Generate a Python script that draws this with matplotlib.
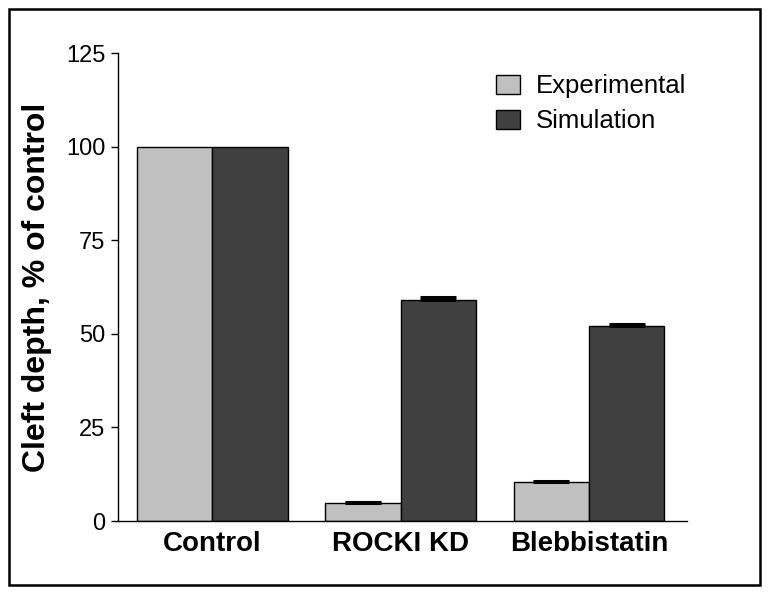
import numpy as np
import matplotlib.pyplot as plt
from matplotlib.patches import Rectangle

plt.rcParams['font.family'] = ['Liberation Sans', 'DejaVu Sans']

# data
groups = ['Control', 'ROCKI KD', 'Blebbistatin']
experimental = [100.0, 4.8, 10.5]
experimental_err = [0.0, 0.3, 0.3]
simulation = [100.0, 59.1, 52.0]
simulation_err = [0.0, 0.8, 0.6]

fig = plt.figure(figsize=(7.69, 5.96), dpi=100)
ax = fig.add_axes([118/769, 1 - 521/596, (687-118)/769, (521-53)/596])

x = np.arange(len(groups))
w = 0.4
ax.bar(x - w/2, experimental, w, color='#c0c0c0', edgecolor='black', linewidth=1.0,
       label='Experimental')
ax.bar(x + w/2, simulation, w, color='#404040', edgecolor='black', linewidth=1.0,
       label='Simulation')

# one-sided error bars (caps only above bar)
ax.errorbar(x[1:] - w/2, experimental[1:], yerr=[np.zeros(2), experimental_err[1:]],
            fmt='none', ecolor='black', elinewidth=1.0, capsize=13, capthick=2.2)
ax.errorbar(x[1:] + w/2, simulation[1:], yerr=[np.zeros(2), simulation_err[1:]],
            fmt='none', ecolor='black', elinewidth=1.0, capsize=13, capthick=2.2)

ax.set_xlim(-0.5, 2.52)
ax.set_ylim(0, 125)
ax.set_yticks([0, 25, 50, 75, 100, 125])
ax.set_xticks(x)
ax.set_xticklabels(groups, fontsize=20, fontweight='bold')
ax.tick_params(axis='x', length=0, pad=7)
ax.tick_params(axis='y', labelsize=17, direction='out', length=5, width=1, pad=4)
ax.set_ylabel('Cleft depth, % of control', fontsize=23, fontweight='bold', labelpad=10.5)

ax.spines['top'].set_visible(False)
ax.spines['right'].set_visible(False)
ax.spines['left'].set_linewidth(1.0)
ax.spines['bottom'].set_linewidth(1.0)

ax.legend(loc='upper right', bbox_to_anchor=(1.039, 1.004), frameon=False, fontsize=18.5,
          handlelength=0.93, handleheight=0.78, handletextpad=0.62, labelspacing=0.43)

# outer frame around the whole figure
fig.patches.append(Rectangle((9/769, 1 - 585/596), (760-9)/769, (585-9)/596,
                             transform=fig.transFigure, fill=False,
                             edgecolor='black', linewidth=1.8))

fig.savefig('out.png', dpi=100)
